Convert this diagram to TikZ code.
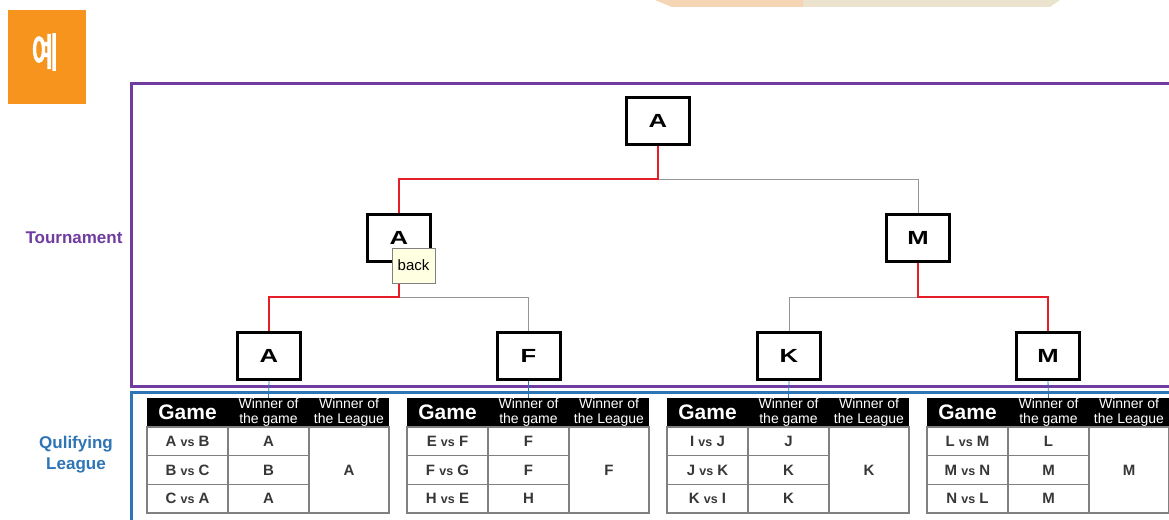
\documentclass[tikz,border=0pt]{standalone}
\usepackage{fontspec}
\setmainfont{Liberation Sans}
\newfontfamily\krfont[FakeBold=4]{Noto Sans CJK KR}
\definecolor{orangebox}{RGB}{247,148,29}
\definecolor{purpfr}{RGB}{112,60,160}
\definecolor{bluefr}{RGB}{46,117,182}
\definecolor{redln}{RGB}{230,30,40}
\definecolor{grayln}{RGB}{150,150,150}
\definecolor{cellgray}{RGB}{128,128,128}
\definecolor{txtgray}{RGB}{55,55,55}
\definecolor{peach}{RGB}{246,213,180}
\definecolor{beige}{RGB}{236,227,206}
\definecolor{tipfill}{RGB}{255,255,225}
\newcommand\wl[1]{\scalebox{1.35}[1]{#1}}
\newcommand\vsw{{\fontsize{12.5}{12.5}\selectfont vs}}
\newcommand\lgtable[9]{%
  \node[hcell, minimum width=81pt, font=\fontsize{21}{21}\selectfont\bfseries] (#1g) at (#2+40.5,412.5) {Game};
  \node[hcell, minimum width=81pt, hsmall] (#1w) at (#2+121.5,412.5) {Winner of\\the game};
  \node[hcell, minimum width=80pt, hsmall] (#1l) at (#2+202,412.5) {Winner of\\the League};
  \node[bcell] (#1a1) at (#2+40.5,441.33) {#3};
  \node[bcell] (#1a2) at (#2+40.5,470) {#4};
  \node[bcell] (#1a3) at (#2+40.5,498.67) {#5};
  \node[bcell] (#1b1) at (#2+121.5,441.33) {#6};
  \node[bcell] (#1b2) at (#2+121.5,470) {#7};
  \node[bcell] (#1b3) at (#2+121.5,498.67) {#8};
  \node[bcell, minimum width=80pt, minimum height=86pt] (#1c) at (#2+202,470) {#9};
}
\begin{document}
\begin{tikzpicture}[x=1pt,y=-1pt,
  tbox/.style={draw=black, line width=3pt, fill=white, minimum width=63pt, minimum height=47pt, inner sep=0pt, font=\fontsize{19}{19}\selectfont\bfseries},
  redl/.style={draw=redln, line width=2.5pt},
  grayl/.style={draw=grayln, line width=1pt},
  hcell/.style={fill=black, text=white, minimum height=29pt, inner sep=0pt, align=center},
  hsmall/.style={font=\fontsize{14}{14.5}\selectfont},
  bcell/.style={draw=cellgray, line width=1.5pt, text=txtgray, minimum width=81pt, minimum height=28.67pt, inner sep=0pt, font=\fontsize{15}{15}\selectfont\bfseries}]
\useasboundingbox (0,0) rectangle (1169,519);
\clip (0,0) rectangle (1169,519);
\fill[white] (0,0) rectangle (1169,519);
% top partial shape
\fill[peach] (655,-5) -- (655,0) -- (672,7) -- (803,7) -- (803,-5) -- cycle;
\fill[beige] (803,-5) -- (803,7) -- (1050,7) -- (1060,0) -- (1060,-5) -- cycle;
% example badge
\node[fill=orangebox, minimum width=78pt, minimum height=94pt, inner sep=0pt] (ex) at (47,57) {};
\node[text=white, font=\krfont\fontsize{40}{40}\selectfont, inner sep=0pt] (extxt) at (45,52) {\scalebox{0.72}[1]{예}};
% frames
\draw[purpfr, line width=3pt] (1180,83) -- (131,83) -- (131,386) -- (1180,386);
\draw[bluefr, line width=3pt] (1180,392) -- (131,392) -- (131,530);
\node[text=purpfr, font=\fontsize{17}{17}\selectfont\bfseries] (tl) at (74,238) {Tournament};
\node[text=bluefr, align=center, font=\fontsize{17}{21}\selectfont\bfseries] (ql) at (76,455) {Qulifying\\League};
% tournament nodes
\node[tbox] (top) at (658,121) {\wl{A}};
\node[tbox] (mA) at (399,238) {\wl{A}};
\node[tbox] (mM) at (918,238) {\wl{M}};
\node[tbox] (bA) at (269,356) {\wl{A}};
\node[tbox] (bF) at (528.5,356) {\wl{F}};
\node[tbox] (bK) at (789,356) {\wl{K}};
\node[tbox] (bM) at (1048,356) {\wl{M}};
\coordinate (j0) at (658,179);
\coordinate (j1) at (399,297);
\coordinate (j2) at (918,297);
\draw[grayl] (j0) -| (mM.north);
\draw[grayl] (j1) -| (bF.north);
\draw[grayl] (j2) -| (bK.north);
\draw[redl] (top.south) -- (j0) -| (mA.north);
\draw[redl] (mA.south) -- (j1) -| (bA.north);
\draw[redl] (mM.south) -- (j2) -| (bM.north);
% tables
\lgtable{t1}{147}{A \vsw{} B}{B \vsw{} C}{C \vsw{} A}{A}{B}{A}{A}
\lgtable{t2}{407}{E \vsw{} F}{F \vsw{} G}{H \vsw{} E}{F}{F}{H}{F}
\lgtable{t3}{667}{I \vsw{} J}{J \vsw{} K}{K \vsw{} I}{J}{K}{K}{K}
\lgtable{t4}{927}{L \vsw{} M}{M \vsw{} N}{N \vsw{} L}{L}{M}{M}{M}
\draw[bluefr, line width=0.8pt] (bA.south) -- (t1w.north);
\draw[bluefr, line width=0.8pt] (bF.south) -- (t2w.north);
\draw[bluefr, line width=0.8pt] (bK.south) -- (t3w.north);
\draw[bluefr, line width=0.8pt] (bM.south) -- (t4w.north);
% tooltip
\node[draw=gray, fill=tipfill, line width=0.6pt, minimum width=43pt, minimum height=35pt, inner sep=0pt, font=\fontsize{15}{15}\selectfont] (tip) at (413.5,265.5) {back};
\end{tikzpicture}
\end{document}
